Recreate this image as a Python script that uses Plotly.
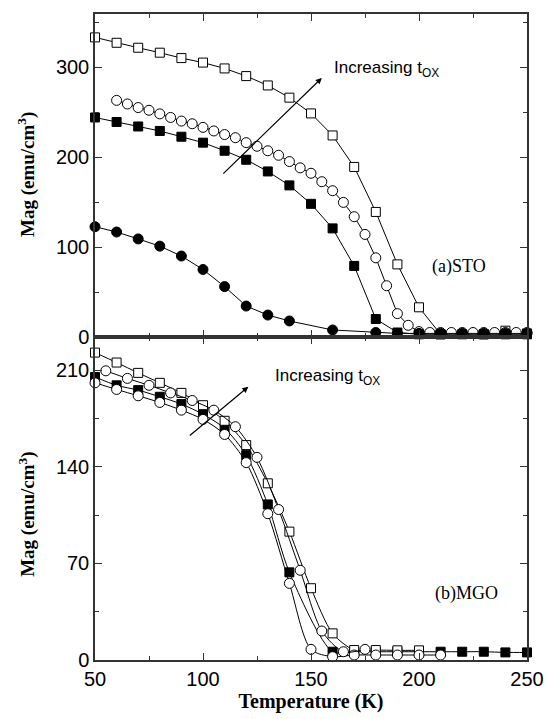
import plotly.graph_objects as go

# ---- Panel (a) STO ----
a_osq_T = [50, 60, 70, 80, 90, 100, 110, 120, 130, 140, 150, 160, 170, 180, 190, 200, 210, 220, 230, 240, 250]
a_osq_M = [333, 327, 321.5, 316, 310, 305, 298.5, 290, 279.6, 266, 248.5, 224, 189, 139, 80.7, 33, 3, -1, 3, 7, 4]

a_oci_T = [60, 65, 70, 75, 80, 85, 90, 95, 100, 105, 110, 115, 120, 125, 130, 135, 140, 145, 150, 155, 160,
           165, 170, 175, 180, 185, 190, 195, 200, 205, 210, 215, 220, 225, 230, 235, 240, 245, 250]
a_oci_M = [263, 259, 255, 252, 248, 244, 240, 237, 233, 229, 225, 221.5, 216, 212, 207, 202, 195, 188, 182, 172.6, 162.6,
           149.6, 133.7, 114, 88, 57, 26, 13, 6, 5, 5, 5, 5, 5, 5, 5, 5, 5, 5]

a_fsq_T = [50, 60, 70, 80, 90, 100, 110, 120, 130, 140, 150, 160, 170, 180, 190, 200, 210, 220, 230, 240, 250]
a_fsq_M = [244, 239, 234, 229, 222.6, 216, 207, 197, 184, 168.5, 148, 120.7, 79, 20, 5, 3, 3, 3, 3, 3, 3]

a_fci_T = [50, 60, 70, 80, 90, 100, 110, 120, 130, 140, 160, 180, 190, 200, 210, 220, 230, 240, 250]
a_fci_M = [122.6, 116.7, 109, 101, 90, 75, 56, 34.4, 24.4, 17.8, 7.8, 5, 4, 4, 4, 4, 4, 4, 4]

# ---- Panel (b) MGO ----
b_osq_T = [50, 60, 70, 80, 90, 100, 110, 120, 130, 140, 150, 160, 170, 180, 190, 200]
b_osq_M = [222.7, 215.5, 208, 200.8, 193.5, 184.6, 173.3, 155.7, 128, 93, 52, 19.3, 7.2, 7.2, 7, 7]

b_fsq_T = [50, 60, 70, 80, 90, 100, 110, 120, 130, 140, 160, 170, 180, 190, 200, 210, 220, 230, 240, 250]
b_fsq_M = [205, 199, 195.5, 190.7, 185.4, 178, 167.8, 148.4, 112.7, 63.5, 6, 6, 6, 6, 6, 6, 6, 6, 5.5, 5.5]

b_ociA_T = [55, 65, 75, 85, 95, 105, 115, 125, 135, 145, 155, 165, 175]
b_ociA_M = [209.5, 204, 199, 193.5, 188, 181, 169, 146.8, 109, 65, 21, 6, 7.7]

b_ociB_T = [50, 60, 70, 80, 90, 100, 110, 120, 130, 140, 150, 160, 170, 180, 190, 200, 210]
b_ociB_M = [200.8, 196, 191.4, 186.6, 181, 174.3, 163.4, 143, 106, 55.5, 7.7, 2.4, 3.6, 3.6, 3.6, 3.6, 3.6]

x_ticks = [50, 100, 150, 200, 250]
a_yticks = [0, 100, 200, 300]
b_yticks = [0, 70, 140, 210]


def tr(x, y, sym, fill, size, xa, ya, shape="linear"):
    return go.Scatter(
        x=x, y=y, mode="lines+markers", xaxis=xa, yaxis=ya,
        line=dict(color="black", width=1, shape=shape, smoothing=0.8),
        marker=dict(symbol=sym, size=size, color=fill, line=dict(color="black", width=1)),
        cliponaxis=False, showlegend=False, hoverinfo="skip")

fig = go.Figure()
# panel a
fig.add_trace(tr(a_osq_T, a_osq_M, "square", "white", 9, "x", "y"))
fig.add_trace(tr(a_oci_T, a_oci_M, "circle", "white", 10, "x", "y"))
fig.add_trace(tr(a_fsq_T, a_fsq_M, "square", "black", 9, "x", "y"))
fig.add_trace(tr(a_fci_T, a_fci_M, "circle", "black", 10, "x", "y"))
# panel b
fig.add_trace(tr(b_fsq_T, b_fsq_M, "square", "black", 9, "x2", "y2", "spline"))
fig.add_trace(tr(b_osq_T, b_osq_M, "square", "white", 9, "x2", "y2", "spline"))
fig.add_trace(tr(b_ociB_T, b_ociB_M, "circle", "white", 10, "x2", "y2", "spline"))
fig.add_trace(tr(b_ociA_T, b_ociA_M, "circle", "white", 10, "x2", "y2", "spline"))

TICKFONT = dict(family="Liberation Sans, Arial, sans-serif", size=20, color="black")
AX = dict(showline=True, linecolor="#333", linewidth=1.5, mirror="ticks",
          ticks="inside", ticklen=7, tickwidth=1.2, tickcolor="#333",
          showgrid=False, zeroline=False, tickfont=TICKFONT, automargin=False)

fig.update_layout(
    width=547, height=719,
    margin=dict(l=95, r=20, t=14, b=59),
    paper_bgcolor="white", plot_bgcolor="white",
    xaxis=dict(AX, domain=[0, 1], range=[50, 250], anchor="y", tickvals=x_ticks, showticklabels=False,
               minor=dict(dtick=25, tick0=50, ticks="inside", ticklen=4, tickcolor="#333")),
    yaxis=dict(AX, domain=[0.5, 1], range=[0, 359], anchor="x", tickvals=a_yticks,
               minor=dict(dtick=50, tick0=0, ticks="inside", ticklen=4, tickcolor="#333")),
    xaxis2=dict(AX, domain=[0, 1], range=[50, 250], anchor="y2", tickvals=x_ticks,
                minor=dict(dtick=25, tick0=50, ticks="inside", ticklen=4, tickcolor="#333"),
                title=dict(text="<b>Temperature (K)</b>", standoff=2,
                           font=dict(family="Liberation Serif, Times New Roman, serif", size=20, color="black"))),
    yaxis2=dict(AX, domain=[0, 0.5], range=[0, 234], anchor="x2", tickvals=b_yticks,
                minor=dict(dtick=35, tick0=0, ticks="inside", ticklen=4, tickcolor="#333")),
)

SERIF = dict(family="Liberation Serif, Times New Roman, serif", size=19, color="black")
SANS = dict(family="Liberation Sans, Arial, sans-serif", size=17, color="black")

ann = [
    # y titles
    dict(text="<b>Mag (emu/cm<sup>3</sup>)</b>", xref="paper", yref="paper", x=-0.157, y=0.751,
         textangle=-90, showarrow=False, font=SERIF, xanchor="center", yanchor="middle"),
    dict(text="<b>Mag (emu/cm<sup>3</sup>)</b>", xref="paper", yref="paper", x=-0.157, y=0.225,
         textangle=-90, showarrow=False, font=SERIF, xanchor="center", yanchor="middle"),
    # arrows
    dict(x=155, y=288, ax=108.7, ay=180, xref="x", yref="y", axref="x", ayref="y",
         showarrow=True, arrowhead=2, arrowsize=1, arrowwidth=1.2, arrowcolor="black", text=""),
    dict(x=121, y=197.9, ax=93.2, ay=161.7, xref="x2", yref="y2", axref="x2", ayref="y2",
         showarrow=True, arrowhead=2, arrowsize=1, arrowwidth=1.2, arrowcolor="black", text=""),
    # labels
    dict(text="Increasing t<sub>OX</sub>", x=159.6, y=298, xref="x", yref="y", showarrow=False,
         xanchor="left", yanchor="middle", font=SANS),
    dict(text="Increasing t<sub>OX</sub>", x=132.4, y=205, xref="x2", yref="y2", showarrow=False,
         xanchor="left", yanchor="middle", font=SANS),
    dict(text="(a)STO", x=205, y=78, xref="x", yref="y", showarrow=False,
         xanchor="left", yanchor="middle", font=dict(SERIF, size=18)),
    dict(text="(b)MGO", x=206.5, y=48.5, xref="x2", yref="y2", showarrow=False,
         xanchor="left", yanchor="middle", font=dict(SERIF, size=18)),
]
fig.update_layout(annotations=ann)

# remove the browser's default body margin so the figure fills the window exactly
fig.write_html("out.html", config={"displayModeBar": False},
               post_script="document.body.style.margin='0';document.body.style.overflow='hidden';")
